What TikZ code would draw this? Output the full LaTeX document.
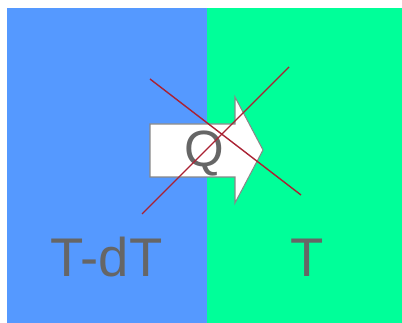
\documentclass[tikz,border=0pt]{standalone}
\usepackage{fontspec}
\setmainfont{Liberation Sans}
\usetikzlibrary{positioning}
\definecolor{coldblue}{HTML}{5599FF}
\definecolor{warmgreen}{HTML}{00FF99}
\definecolor{labelgray}{HTML}{666666}
\definecolor{crossred}{HTML}{AA2233}
\definecolor{edgegray}{HTML}{888888}
\tikzset{
  templabel/.style={text=labelgray, font=\fontsize{31}{31}\selectfont, inner sep=0pt, anchor=base},
  crossline/.style={draw=crossred, line width=0.8pt}
}
\begin{document}
\begin{tikzpicture}[x=0.02cm, y=-0.02cm]
  \useasboundingbox (0,0) rectangle (402,323);
  % the two bodies
  \fill[coldblue] (7,8) rectangle (207,323);
  \fill[warmgreen] (207,8) rectangle (402,323);
  % heat flow arrow
  \draw[edgegray, fill=white, line width=0.6pt]
    (150,124) -- (235,124) -- (235,97) -- (263,150) -- (235,203)
    -- (235,177) -- (150,177) -- cycle;
  \node[templabel, font=\fontsize{29}{29}\selectfont] (heat) at (204,167) {Q};
  % temperatures
  \node[templabel] (cold) at (106.5,277) {T-dT};
  \node[templabel] (warm) at (307.5,277) {T};
  % crossed out
  \draw[crossline] (150,79) -- (301,195);
  \draw[crossline] (289,67) -- (142,214);
\end{tikzpicture}
\end{document}
